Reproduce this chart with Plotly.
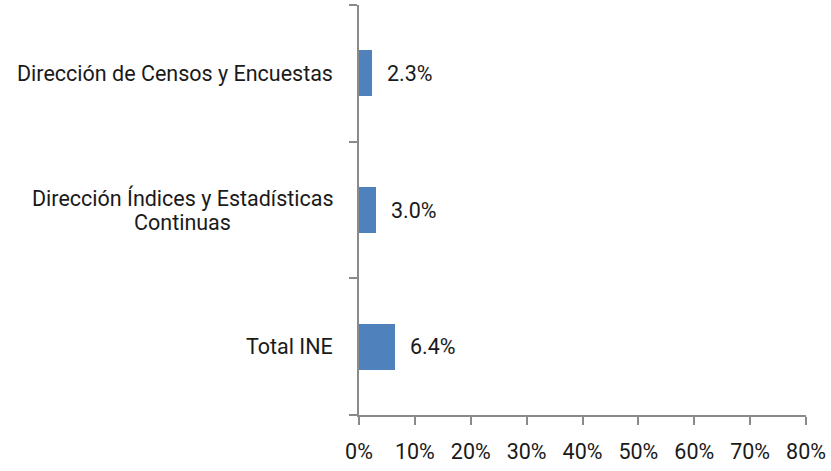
import plotly.graph_objects as go

categories = ["Total INE", "Dirección Índices y Estadísticas<br>Continuas", "Dirección de Censos y Encuestas"]
values = [0.064, 0.030, 0.023]
value_labels = ["6.4%", "3.0%", "2.3%"]
x_ticks = [0, 0.1, 0.2, 0.3, 0.4, 0.5, 0.6, 0.7, 0.8]
x_tick_labels = ["0%", "10%", "20%", "30%", "40%", "50%", "60%", "70%", "80%"]

FONT = "Roboto, Liberation Sans, sans-serif"
FS = 21.5
TXT = "#1a1a1a"
AX = "#8a8a8a"

pos = list(range(len(categories)))

fig = go.Figure()
fig.add_trace(go.Bar(
    x=values, y=pos, orientation="h", width=0.336,
    marker=dict(color="#4F81BD", line=dict(width=0)),
    hoverinfo="skip",
))

annotations = []
for p, v, t in zip(pos, values, value_labels):
    annotations.append(dict(x=v, y=p, xref="x", yref="y", text=t, showarrow=False,
                            xanchor="left", yanchor="middle", xshift=13,
                            font=dict(family=FONT, size=FS, color=TXT)))
LINE_H = 24
for p, c in zip(pos, categories):
    lines = c.split("<br>")
    n = len(lines)
    for i, ln in enumerate(lines):
        annotations.append(dict(x=-0.0545, y=p, xref="paper", yref="y", text=ln, showarrow=False,
                                xanchor="right" if n == 1 else "center", yanchor="middle",
                                xshift=0 if n == 1 else -152,
                                yshift=((n - 1) / 2 - i) * LINE_H,
                                font=dict(family=FONT, size=FS, color=TXT)))

fig.update_layout(
    width=831, height=471,
    margin=dict(l=359, r=23, t=5, b=56),
    paper_bgcolor="white", plot_bgcolor="white",
    showlegend=False,
    font=dict(family=FONT, size=FS, color=TXT),
    annotations=annotations,
    xaxis=dict(range=[0, 0.8], tickvals=x_ticks, ticktext=x_tick_labels,
               showgrid=False, zeroline=False, showline=True, linecolor=AX, linewidth=2,
               ticks="outside", ticklen=8, tickwidth=2, tickcolor=AX, ticklabelstandoff=8,
               tickfont=dict(family=FONT, size=FS, color=TXT)),
    yaxis=dict(range=[-0.5, 2.5], tickvals=[-0.5, 0.5, 1.5, 2.5], showticklabels=False,
               showgrid=False, zeroline=False, showline=True, linecolor=AX, linewidth=2,
               ticks="outside", ticklen=8, tickwidth=2, tickcolor=AX),
    bargap=0,
)

fig.write_html("out.html", config={"displayModeBar": False},
               post_script="document.body.style.margin='0';")
